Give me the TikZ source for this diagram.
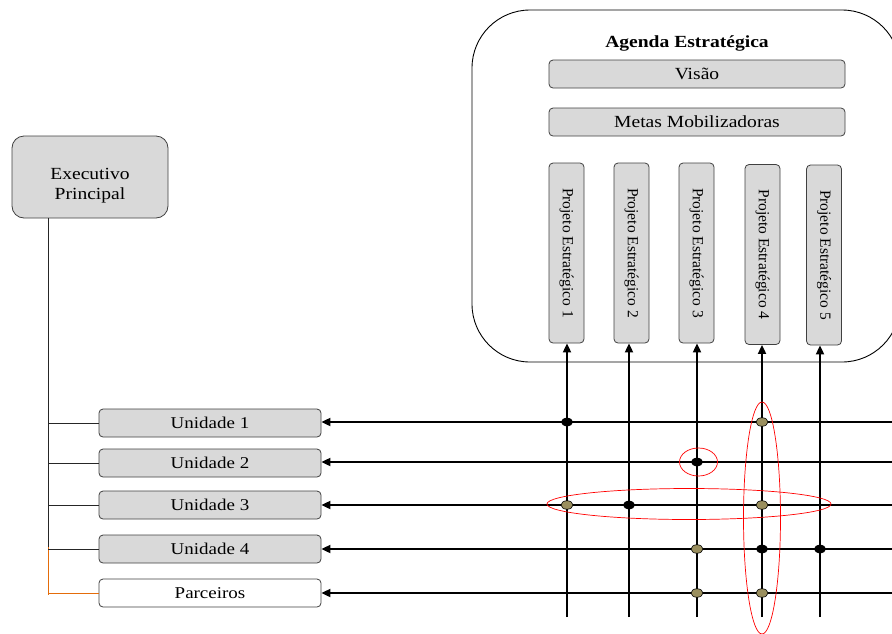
\documentclass[tikz,border=0pt]{standalone}
\usepackage{fontspec}
\setmainfont{Liberation Serif}[FakeStretch=1.15]
\newfontfamily\vfont{Liberation Serif}
\usetikzlibrary{arrows.meta,shapes.geometric}
\definecolor{boxgray}{RGB}{217,217,217}
\definecolor{dotolive}{RGB}{154,143,94}
\definecolor{treeorange}{RGB}{228,108,10}
\tikzset{
  graybox/.style={draw=black!75, fill=boxgray, rounded corners=4pt, line width=0.8pt, inner sep=0pt},
  unitbox/.style={graybox, minimum width=222pt, minimum height=28pt, font=\fontsize{16.5}{18}\selectfont},
  widebox/.style={graybox, minimum width=296pt, minimum height=28pt, font=\fontsize{17}{19}\selectfont},
  projbox/.style={graybox, rotate=-90, minimum width=180pt, minimum height=35pt, font=\vfont\fontsize{15.5}{17}\selectfont},
  link/.style={line width=1.9pt, -{Triangle[length=9pt,width=8pt]}},
  dotb/.style={ellipse, fill=black, minimum width=12pt, minimum height=8.5pt, inner sep=0pt},
  doto/.style={ellipse, draw=black, line width=0.6pt, fill=dotolive, minimum width=12pt, minimum height=8.5pt, inner sep=0pt},
  ring/.style={red, line width=0.7pt},
  tree/.style={line width=0.9pt, black!85}
}
\begin{document}
\begin{tikzpicture}[x=1pt,y=-1pt]
\useasboundingbox (0,0) rectangle (892,633);
\clip (0,0) rectangle (892,633);
% agenda container
\draw[line width=0.9pt, rounded corners=58pt] (472,10) rectangle (900,362);
\node[font=\bfseries\fontsize{17}{19}\selectfont] (agenda) at (687,43) {Agenda Estratégica};
\node[widebox] (visao) at (697,74) {Visão};
\node[widebox] (metas) at (697,122) {Metas Mobilizadoras};
\node[projbox] (p1) at (566.5,253) {Projeto Estratégico 1};
\node[projbox] (p2) at (631.5,253) {Projeto Estratégico 2};
\node[projbox] (p3) at (696.5,253) {Projeto Estratégico 3};
\node[projbox] (p4) at (762.5,254.5) {Projeto Estratégico 4};
\node[projbox] (p5) at (824,255) {Projeto Estratégico 5};
% executive and units
\node[graybox, rounded corners=12pt, minimum width=156pt, minimum height=82pt] (exec) at (90,177) {};
\node[font=\fontsize{17}{20}\selectfont, align=center] (exectext) at (90,186) {Executivo\\Principal};
\node[unitbox] (u1) at (210,423) {Unidade 1};
\node[unitbox] (u2) at (210,463) {Unidade 2};
\node[unitbox] (u3) at (210,505) {Unidade 3};
\node[unitbox] (u4) at (210,549) {Unidade 4};
\node[unitbox, fill=white] (parc) at (210,593) {Parceiros};
% tree
\coordinate (t0) at (48,218);
\coordinate (t4) at (48,547);
\coordinate (t5) at (48,595);
\draw[tree] (t0) -- (t4);
\draw[tree, treeorange] (t4) -- (t5);
\draw[tree] (u1.west -| t0) -- (u1.west);
\draw[tree] (u2.west -| t0) -- (u2.west);
\draw[tree] (u3.west -| t0) -- (u3.west);
\draw[tree] (u4.west -| t0) -- (u4.west);
\draw[tree, treeorange] (parc.west -| t0) -- (parc.west);
% vertical arrows
\coordinate (b1) at (567,617);
\coordinate (b2) at (629,617);
\coordinate (b3) at (697,617);
\coordinate (b4) at (762,617);
\coordinate (b5) at (820,617);
\draw[link] (b1) -- (b1 |- p1.east);
\draw[link] (b2) -- (b2 |- p2.east);
\draw[link] (b3) -- (b3 |- p3.east);
\draw[link] (b4) -- (b4 |- p4.east);
\draw[link] (b5) -- (b5 |- p5.east);
% horizontal arrows
\coordinate (r1) at (895,422);
\coordinate (r2) at (895,462);
\coordinate (r3) at (895,505);
\coordinate (r4) at (895,549);
\coordinate (r5) at (895,593);
\draw[link] (r1) -- (r1 -| u1.east);
\draw[link] (r2) -- (r2 -| u2.east);
\draw[link] (r3) -- (r3 -| u3.east);
\draw[link] (r4) -- (r4 -| u4.east);
\draw[link] (r5) -- (r5 -| parc.east);
% dots
\node[dotb] (d11) at (567,422) {};
\node[doto] (d14) at (762,422) {};
\node[dotb] (d23) at (697,462) {};
\node[doto] (d31) at (567,505) {};
\node[dotb] (d32) at (629,505) {};
\node[doto] (d34) at (762,505) {};
\node[doto] (d43) at (697,549) {};
\node[dotb] (d44) at (762,549) {};
\node[dotb] (d45) at (820,549) {};
\node[doto] (d53) at (697,593) {};
\node[doto] (d54) at (762,593) {};
% red highlights
\draw[ring] (698.5,462) ellipse [x radius=19pt, y radius=14pt];
\draw[ring] (689,504) ellipse [x radius=142pt, y radius=15.5pt];
\draw[ring] (762,518) ellipse [x radius=18.5pt, y radius=116pt];
\end{tikzpicture}
\end{document}
